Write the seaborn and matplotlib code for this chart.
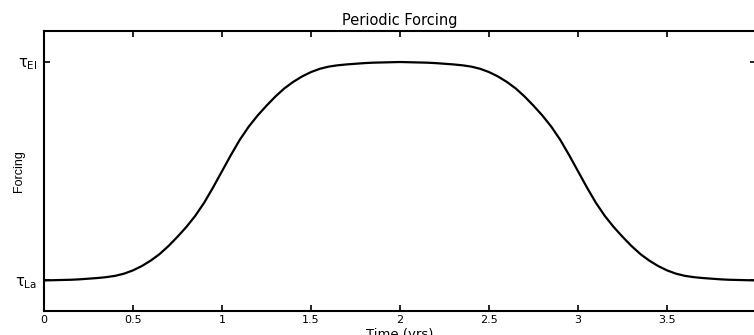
import matplotlib
matplotlib.use("Agg")
import matplotlib.pyplot as plt
import seaborn as sns
import pandas as pd

# ---- data (forcing normalised: 0 = tau_La, 1 = tau_El)
time_yrs = [0.00, 0.05, 0.10, 0.15, 0.20, 0.25, 0.30, 0.35, 0.40, 0.45,
            0.50, 0.55, 0.60, 0.65, 0.70, 0.75, 0.80, 0.85, 0.90, 0.95,
            1.00, 1.05, 1.10, 1.15, 1.20, 1.25, 1.30, 1.35, 1.40, 1.45,
            1.50, 1.55, 1.60, 1.65, 1.70, 1.75, 1.80, 1.85, 1.90, 1.95,
            2.00, 2.05, 2.10, 2.15, 2.20, 2.25, 2.30, 2.35, 2.40, 2.45,
            2.50, 2.55, 2.60, 2.65, 2.70, 2.75, 2.80, 2.85, 2.90, 2.95,
            3.00, 3.05, 3.10, 3.15, 3.20, 3.25, 3.30, 3.35, 3.40, 3.45,
            3.50, 3.55, 3.60, 3.65, 3.70, 3.75, 3.80, 3.85, 3.90, 3.95, 4.00]
forcing = [0.000, 0.001, 0.002, 0.003, 0.005, 0.008, 0.011, 0.015, 0.021, 0.031,
           0.046, 0.066, 0.091, 0.121, 0.158, 0.200, 0.245, 0.296, 0.356, 0.426,
           0.500, 0.574, 0.644, 0.704, 0.755, 0.800, 0.842, 0.879, 0.909, 0.934,
           0.954, 0.969, 0.979, 0.985, 0.989, 0.992, 0.995, 0.997, 0.998, 0.999,
           1.000, 0.999, 0.998, 0.997, 0.995, 0.992, 0.989, 0.985, 0.979, 0.969,
           0.954, 0.934, 0.909, 0.879, 0.842, 0.800, 0.755, 0.704, 0.644, 0.574,
           0.500, 0.426, 0.356, 0.296, 0.245, 0.200, 0.158, 0.121, 0.091, 0.066,
           0.046, 0.031, 0.021, 0.015, 0.011, 0.008, 0.005, 0.003, 0.002, 0.001, 0.000]
x_ticks = [0, 0.5, 1, 1.5, 2, 2.5, 3, 3.5, 4]
x_tick_labels = ["0", "0.5", "1", "1.5", "2", "2.5", "3", "3.5", ""]
y_ticks = [0.0, 1.0]
y_tick_labels = [r"$\mathrm{\tau_{La}}$", r"$\mathrm{\tau_{El}}$"]

df = pd.DataFrame({"Time (yrs)": time_yrs, "Forcing": forcing})

sns.set_theme(style="ticks")
plt.rcParams["font.family"] = ["DejaVu Sans"]
plt.rcParams["mathtext.fontset"] = "dejavusans"
plt.rcParams["text.color"] = "black"
plt.rcParams["axes.labelcolor"] = "black"

W, H = 754, 335
fig = plt.figure(figsize=(W / 100, H / 100), dpi=100)
ax = fig.add_axes([44 / W, (H - 311) / H, 712 / W, 280 / H])

sns.lineplot(data=df, x="Time (yrs)", y="Forcing", ax=ax, color="black",
             linewidth=1.6)

ax.set_xlim(0, 4)
ax.set_ylim(-0.14, 1.142)

ax.tick_params(direction="in", length=4, width=1.2, top=True, right=True,
               colors="black", labelcolor="black", pad=3)
ax.tick_params(axis="x", labelsize=8)
ax.tick_params(axis="y", labelsize=10.5, pad=5)

ax.set_xticks(x_ticks)
ax.set_xticklabels(x_tick_labels, fontsize=8)
ax.set_yticks(y_ticks)
ax.set_yticklabels(y_tick_labels, fontsize=10.5)

for s in ax.spines.values():
    s.set_linewidth(1.5)
    s.set_color("black")

ax.set_ylabel("Forcing", fontsize=9, color="black",
              family=["Liberation Sans", "DejaVu Sans"])
ax.yaxis.set_label_coords(-0.027, 0.5)
ax.set_xlabel("Time (yrs)", fontsize=9.5, color="black")
ax.xaxis.set_label_coords(0.5, -0.061)
ax.set_title("Periodic Forcing", fontsize=10.5, pad=4, color="black")

fig.savefig("out.png", dpi=100)
